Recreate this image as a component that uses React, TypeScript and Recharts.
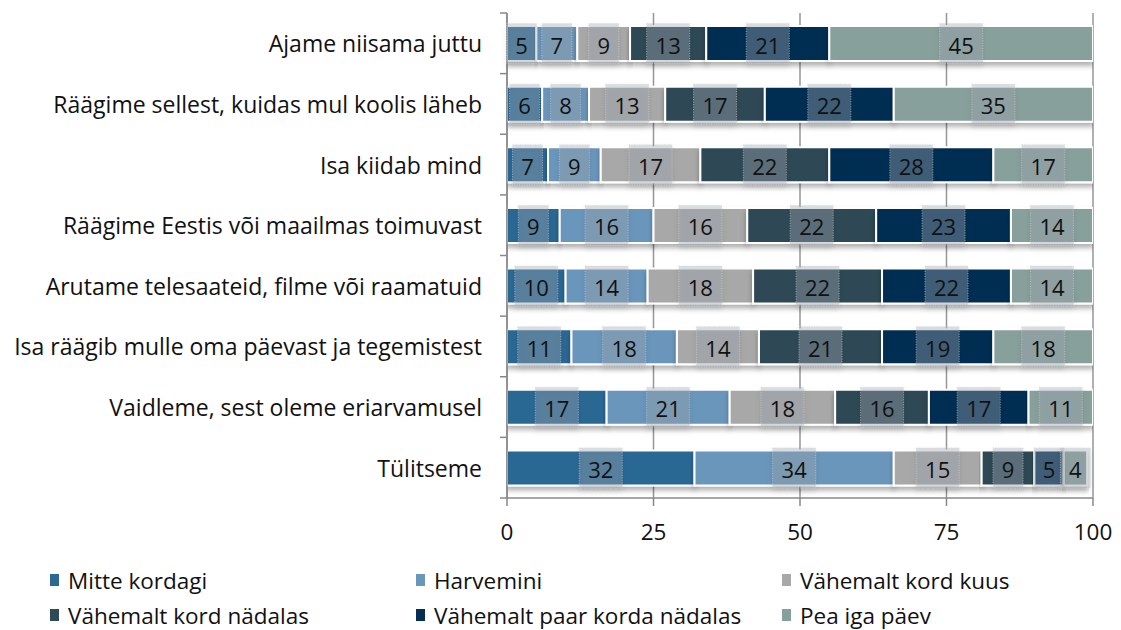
import React from "react";
import { BarChart, Bar, XAxis, YAxis, CartesianGrid, Legend, LabelList } from "recharts";

const categories = [
  "Ajame niisama juttu",
  "Räägime sellest, kuidas mul koolis läheb",
  "Isa kiidab mind",
  "Räägime Eestis või maailmas toimuvast",
  "Arutame telesaateid, filme või raamatuid",
  "Isa räägib mulle oma päevast ja tegemistest",
  "Vaidleme, sest oleme eriarvamusel",
  "Tülitseme",
];

const seriesNames = [
  "Mitte kordagi",
  "Harvemini",
  "Vähemalt kord kuus",
  "Vähemalt kord nädalas",
  "Vähemalt paar korda nädalas",
  "Pea iga päev",
];

const mitteKordagi = [5, 6, 7, 9, 10, 11, 17, 32];
const harvemini = [7, 8, 9, 16, 14, 18, 21, 34];
const kordKuus = [9, 13, 17, 16, 18, 14, 18, 15];
const kordNadalas = [13, 17, 22, 22, 22, 21, 16, 9];
const paarKordaNadalas = [21, 22, 28, 23, 22, 19, 17, 5];
const peaIgaPaev = [45, 35, 17, 14, 14, 18, 11, 4];

const xTicks = [0, 25, 50, 75, 100];

const seriesValues = [mitteKordagi, harvemini, kordKuus, kordNadalas, paarKordaNadalas, peaIgaPaev];
const colors = ["#2c6894", "#6b96bb", "#a8a8a8", "#2e4a55", "#062e52", "#88a09c"];
const keys = ["s0", "s1", "s2", "s3", "s4", "s5"];

const data = categories.map((name, i) => {
  const row: Record<string, string | number> = { name };
  seriesValues.forEach((vals, s) => {
    row[keys[s]] = vals[i];
  });
  return row;
});

const FONT = "'Open Sans', sans-serif";
const PLOT_TOP = 13;
const PLOT_BOTTOM = 498;
const BAND = (PLOT_BOTTOM - PLOT_TOP) / categories.length;

const CategoryTick = (props: any) => {
  const { x, y, payload, index } = props;
  const ax = x + 8;
  return (
    <g>
      <text
        x={ax - 25}
        y={y}
        textAnchor="end"
        dominantBaseline="central"
        fontFamily={FONT}
        fontSize={23}
        fill="#111"
      >
        {payload.value}
      </text>
      <line x1={ax - 7} x2={ax} y1={y - BAND / 2} y2={y - BAND / 2} stroke="#888" strokeWidth={1.5} />
      {index === categories.length - 1 && (
        <line x1={ax - 7} x2={ax} y1={y + BAND / 2} y2={y + BAND / 2} stroke="#888" strokeWidth={1.5} />
      )}
    </g>
  );
};

const ValueLabel = (props: any) => {
  const { x, y, width, height, value } = props;
  const cx = x + width / 2;
  const cy = y + height / 2;
  const w = String(value).length > 1 ? 43 : 30;
  const h = 40;
  return (
    <g>
      <rect
        x={cx - w / 2}
        y={cy - h / 2}
        width={w}
        height={h}
        fill="rgba(160,170,180,0.36)"
        stroke="rgba(210,210,210,0.6)"
        strokeDasharray="1 1.5"
        strokeWidth={1}
        filter="url(#boxShadow)"
      />
      <text
        x={cx}
        y={cy + 1}
        textAnchor="middle"
        dominantBaseline="central"
        fontFamily={FONT}
        fontSize={22}
        fill="#111"
      >
        {value}
      </text>
    </g>
  );
};

const LegendContent = () => (
  <div
    style={{
      position: "relative",
      width: 1121,
      height: 80,
      fontFamily: FONT,
      fontSize: 22.5,
      color: "#111",
    }}
  >
    {seriesNames.map((name, i) => {
      const col = i % 3;
      const row = Math.floor(i / 3);
      return (
        <div
          key={name}
          style={{
            position: "absolute",
            left: 50 + col * 366,
            top: 17 + row * 35,
            height: 30,
            display: "flex",
            alignItems: "center",
            whiteSpace: "nowrap",
          }}
        >
          <span
            style={{
              display: "inline-block",
              width: 9,
              height: 12,
              background: colors[i],
              marginRight: 9,
            }}
          />
          {name}
        </div>
      );
    })}
  </div>
);

export default function App() {
  return (
    <div style={{ position: "absolute", left: 0, top: 0, width: 1121, height: 630, background: "#fff" }}>
      <svg width={0} height={0} style={{ position: "absolute" }}>
        <defs>
          <filter id="barShadow" x="-5%" y="-30%" width="110%" height="180%">
            <feDropShadow dx={0} dy={4} stdDeviation={2.5} floodColor="#000" floodOpacity={0.3} />
          </filter>
          <filter id="boxShadow" x="-30%" y="-30%" width="160%" height="180%">
            <feDropShadow dx={0} dy={3} stdDeviation={2.5} floodColor="#000" floodOpacity={0.25} />
          </filter>
        </defs>
      </svg>
      <BarChart
        width={1121}
        height={630}
        data={data}
        layout="vertical"
        barCategoryGap={13}
        margin={{ top: PLOT_TOP, right: 28, left: 0, bottom: 2 }}
      >
        <CartesianGrid horizontal={false} vertical stroke="#969696" strokeWidth={1.5} />
        <XAxis
          type="number"
          domain={[0, 100]}
          ticks={xTicks}
          allowDataOverflow
          height={50}
          axisLine={{ stroke: "#888", strokeWidth: 1.5 }}
          tickLine={{ stroke: "#888", strokeWidth: 1.5 }}
          tickSize={8}
          tick={{ fontFamily: FONT, fontSize: 22.5, fill: "#111", dy: 16 }}
        />
        <YAxis
          type="category"
          dataKey="name"
          width={507}
          axisLine={{ stroke: "#888", strokeWidth: 1.5 }}
          tickLine={false}
          tick={<CategoryTick />}
          interval={0}
        />
        <Legend verticalAlign="bottom" height={80} content={<LegendContent />} />
        {keys.map((k, i) => (
          <Bar
            key={k}
            dataKey={k}
            name={seriesNames[i]}
            stackId="a"
            fill={colors[i]}
            stroke="#fff"
            strokeWidth={2}
            isAnimationActive={false}
            style={{ filter: "url(#barShadow)" }}
          >
            <LabelList dataKey={k} content={<ValueLabel />} />
          </Bar>
        ))}
      </BarChart>
    </div>
  );
}
